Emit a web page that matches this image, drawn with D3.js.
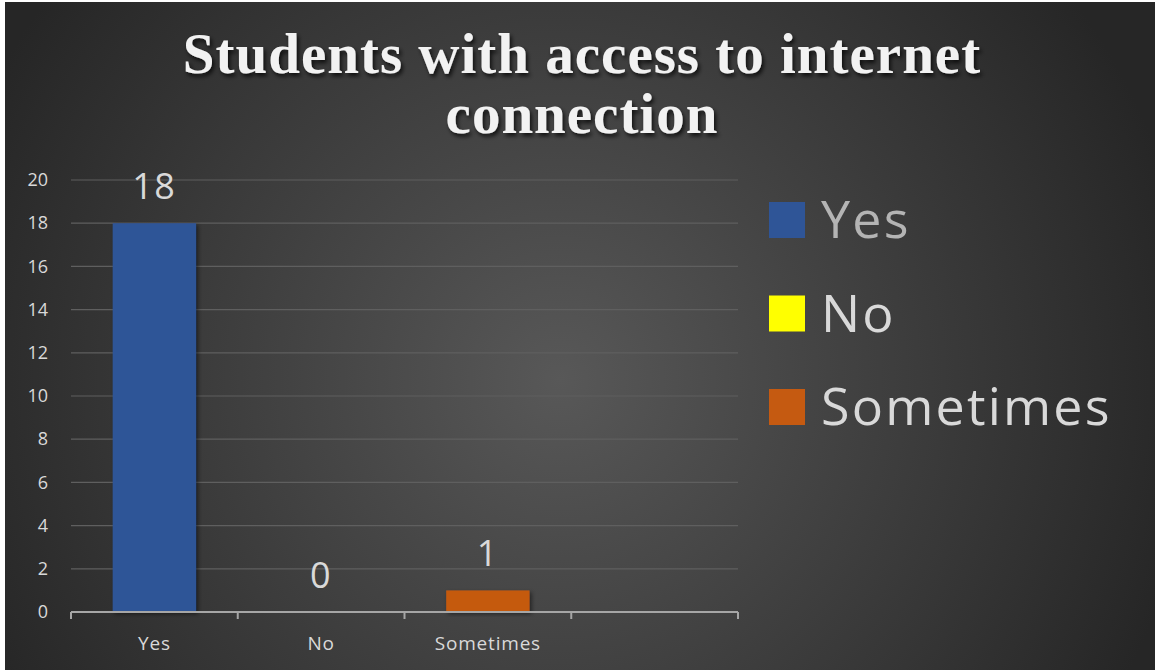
<!DOCTYPE html>
<html>
<head>
<meta charset="utf-8">
<script src="https://cdn.jsdelivr.net/npm/d3@7"></script>
<style>
  body { margin: 0; background: #fff; }
</style>
</head>
<body>
<div id="chart"></div>
<script>
// chart data
var categories = ["Yes", "No", "Sometimes"];
var values = [18, 0, 1];
var seriesColors = ["#2f5597", "#ffff00", "#c55a11"];
var yTicks = [0, 2, 4, 6, 8, 10, 12, 14, 16, 18, 20];
var titleLines = ["Students with access to internet", "connection"];

var w = 1155;
var h = 671;

var svg = d3.select("#chart")
            .append("svg")
            .attr("width", w)
            .attr("height", h);

var defs = svg.append("defs");

var grad = defs.append("radialGradient")
               .attr("id", "bg")
               .attr("gradientUnits", "userSpaceOnUse")
               .attr("cx", 560).attr("cy", 380).attr("r", 640);
grad.append("stop").attr("offset", "0%").attr("stop-color", "#585858");
grad.append("stop").attr("offset", "100%").attr("stop-color", "#262626");

var shadow = defs.append("filter").attr("id", "shadow")
                 .attr("x", "-10%").attr("y", "-10%").attr("width", "130%").attr("height", "130%");
shadow.append("feDropShadow")
      .attr("dx", 2).attr("dy", 3).attr("stdDeviation", 2)
      .attr("flood-color", "#000").attr("flood-opacity", 0.75);

var barShadow = defs.append("filter").attr("id", "barshadow")
                 .attr("x", "-20%").attr("y", "-20%").attr("width", "140%").attr("height", "140%");
barShadow.append("feDropShadow")
      .attr("dx", 2).attr("dy", 2).attr("stdDeviation", 2)
      .attr("flood-color", "#000").attr("flood-opacity", 0.5);

// background
svg.append("rect")
   .attr("x", 5).attr("y", 2)
   .attr("width", w - 5).attr("height", h - 3)
   .attr("fill", "url(#bg)");

// title
var title = svg.append("text")
   .attr("text-anchor", "middle")
   .attr("font-family", "Liberation Serif, Times New Roman, serif")
   .attr("font-weight", "bold")
   .attr("font-size", 57)
   .attr("letter-spacing", 1)
   .attr("fill", "#f2f2f2")
   .attr("filter", "url(#shadow)");
title.selectAll("tspan")
   .data(titleLines)
   .enter()
   .append("tspan")
   .attr("x", 582)
   .attr("y", function(d, i){ return 73 + i * 60; })
   .text(function(d){ return d; });

// scales
var x = d3.scaleBand()
          .domain(categories.concat([" "]))
          .range([71, 738])
          .paddingInner(0.5)
          .paddingOuter(0.25);

var y = d3.scaleLinear()
          .domain([0, 20])
          .range([612, 180]);

var font = "Open Sans, sans-serif";

// gridlines
svg.append("g")
   .selectAll("line")
   .data(yTicks.slice(1))
   .enter()
   .append("line")
   .attr("x1", 71).attr("x2", 738)
   .attr("y1", function(d){ return y(d); })
   .attr("y2", function(d){ return y(d); })
   .attr("stroke", "#5f5f5f")
   .attr("stroke-width", 1.2);

// y axis labels
var yAxis = svg.append("g")
   .attr("transform", "translate(60,0)")
   .call(d3.axisLeft(y).tickValues(yTicks).tickSize(0).tickPadding(12));
yAxis.select(".domain").remove();
yAxis.selectAll("text")
   .attr("font-family", font)
   .attr("font-size", 18)
   .attr("fill", "#d9d9d9");

// bars
svg.append("g")
   .selectAll("rect")
   .data(values)
   .enter()
   .append("rect")
   .attr("x", function(d, i){ return x(categories[i]); })
   .attr("y", function(d){ return y(d); })
   .attr("width", x.bandwidth())
   .attr("height", function(d){ return y(0) - y(d); })
   .attr("fill", function(d, i){ return seriesColors[i]; })
   .attr("filter", "url(#barshadow)");

// data labels
svg.append("g")
   .selectAll("text")
   .data(values)
   .enter()
   .append("text")
   .attr("x", function(d, i){ return x(categories[i]) + x.bandwidth() / 2; })
   .attr("y", function(d){ return y(d) - 24; })
   .attr("text-anchor", "middle")
   .attr("font-family", font)
   .attr("font-size", 36)
   .attr("letter-spacing", 1.5)
   .attr("fill", "#d9d9d9")
   .text(function(d){ return d; });

// x axis with ticks on band edges
var edges = x.domain().map(function(d){ return x(d) - x.step() * x.paddingInner() / 2; });
edges.push(738);
var xAxis = svg.append("g");
xAxis.append("line")
   .attr("x1", 71).attr("x2", 738)
   .attr("y1", y(0)).attr("y2", y(0))
   .attr("stroke", "#a6a6a6")
   .attr("stroke-width", 2);
xAxis.selectAll(".tick")
   .data(edges)
   .enter()
   .append("line")
   .attr("x1", function(d){ return d; })
   .attr("x2", function(d){ return d; })
   .attr("y1", y(0)).attr("y2", y(0) + 7)
   .attr("stroke", "#a6a6a6")
   .attr("stroke-width", 2);
xAxis.selectAll("text")
   .data(categories)
   .enter()
   .append("text")
   .attr("x", function(d){ return x(d) + x.bandwidth() / 2; })
   .attr("y", 650)
   .attr("text-anchor", "middle")
   .attr("font-family", font)
   .attr("font-size", 19)
   .attr("letter-spacing", 0.8)
   .attr("fill", "#d9d9d9")
   .text(function(d){ return d; });

// legend
var legend = svg.append("g")
   .selectAll("g")
   .data(categories)
   .enter()
   .append("g")
   .attr("transform", function(d, i){ return "translate(769," + (202 + i * 93.5) + ")"; });
legend.append("rect")
   .attr("width", 36).attr("height", 36)
   .attr("fill", function(d, i){ return seriesColors[i]; });
legend.append("text")
   .attr("x", 52).attr("y", 36)
   .attr("font-family", font)
   .attr("font-size", 52)
   .attr("letter-spacing", 2.2)
   .attr("fill", function(d, i){ return i === 0 ? "#b4b4b4" : "#d9d9d9"; })
   .text(function(d){ return d; });
</script>
</body>
</html>
